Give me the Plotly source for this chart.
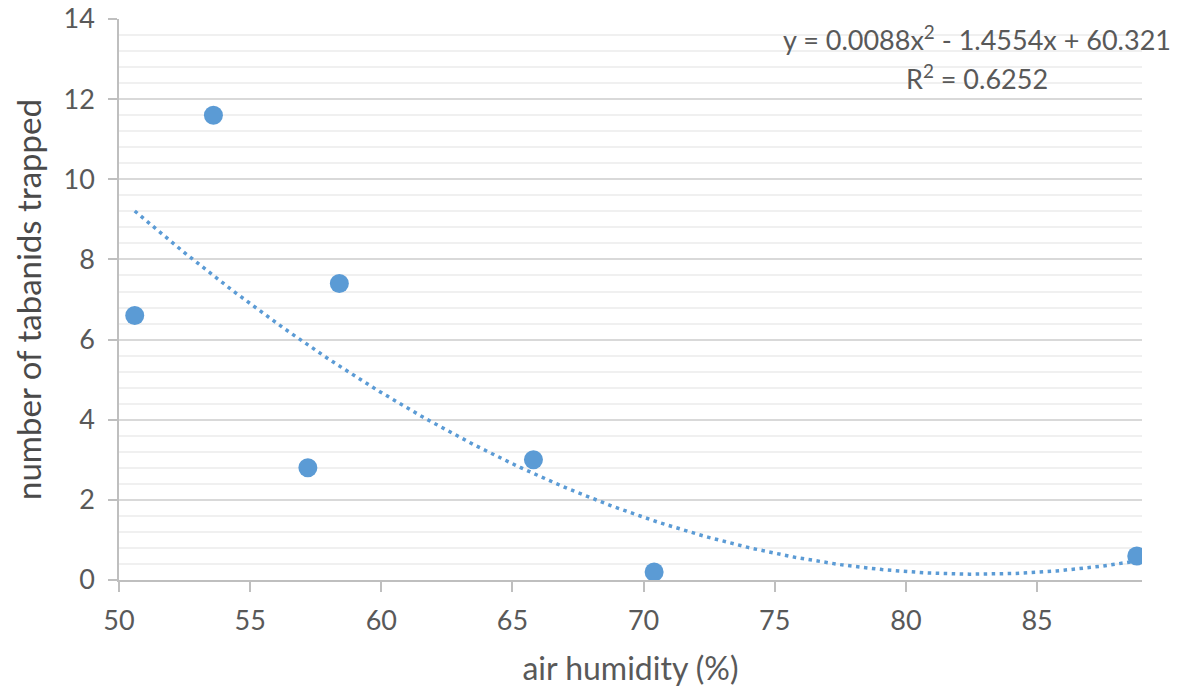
import numpy as np
import plotly.graph_objects as go

# data
humidity = [50.6, 53.6, 57.2, 58.4, 65.8, 70.4, 88.8]
tabanids = [6.6, 11.6, 2.8, 7.4, 3.0, 0.2, 0.6]
# trendline coefficients as printed on the chart (a*x^2 + b*x + c)
coef_a, coef_b, coef_c = 0.0088, -1.4554, 60.321
x_ticks = [50, 55, 60, 65, 70, 75, 80, 85]
y_ticks = [0, 2, 4, 6, 8, 10, 12, 14]

BLUE = "#5B9BD5"
TXT = "#595959"
FONT = "Lato"

tx = np.linspace(min(humidity), max(humidity), 300)
ty = coef_a * tx**2 + coef_b * tx + coef_c

fig = go.Figure()
fig.add_trace(go.Scatter(x=tx, y=ty, mode="lines",
                         line=dict(color=BLUE, width=3.5, dash="3.5px,4.5px"),
                         hoverinfo="skip", showlegend=False))
fig.add_trace(go.Scatter(x=humidity, y=tabanids, mode="markers",
                         marker=dict(color=BLUE, size=19, line=dict(width=0)),
                         showlegend=False))

fig.update_layout(
    width=1188, height=699,
    margin=dict(l=111, r=54, t=11, b=127),
    plot_bgcolor="white", paper_bgcolor="white",
    font=dict(family=FONT, color=TXT, size=27),
    xaxis=dict(range=[50, 89], tickvals=x_ticks, showgrid=False, zeroline=False,
               automargin=False,
               showline=True, linecolor="#BFBFBF", linewidth=1.5,
               ticks="outside", ticklen=10, tickcolor="#BFBFBF", tickwidth=1.5,
               ticklabelstandoff=6,
               tickfont=dict(size=27, color=TXT),
               title=dict(text="air humidity (%)", font=dict(size=32, color=TXT), standoff=22)),
    yaxis=dict(range=[0, 14.001], tickvals=y_ticks, showgrid=True, gridcolor="#D9D9D9", gridwidth=1.5,
               minor=dict(dtick=0.4, showgrid=True, gridcolor="#F0F0F0", gridwidth=1.5),
               automargin=False, ticklabeloverflow="allow",
               zeroline=False, showline=True, linecolor="#BFBFBF", linewidth=1.5,
               ticks="outside", ticklen=9, tickcolor="#BFBFBF", tickwidth=1.5,
               ticklabelstandoff=8,
               tickfont=dict(size=27, color=TXT),
               title=dict(text="number of tabanids trapped", font=dict(size=33, color="#4a4a4a"), standoff=14)),
)
fig.add_annotation(xref="paper", yref="paper", x=0.839, y=0.966,
                   text="y = 0.0088x<sup>2</sup> - 1.4554x + 60.321", showarrow=False,
                   font=dict(size=27, color=TXT), xanchor="center", yanchor="middle")
fig.add_annotation(xref="paper", yref="paper", x=0.839, y=0.897,
                   text="R<sup>2</sup> = 0.6252", showarrow=False,
                   font=dict(size=27, color=TXT), xanchor="center", yanchor="middle")

fig.write_html("out.html")
